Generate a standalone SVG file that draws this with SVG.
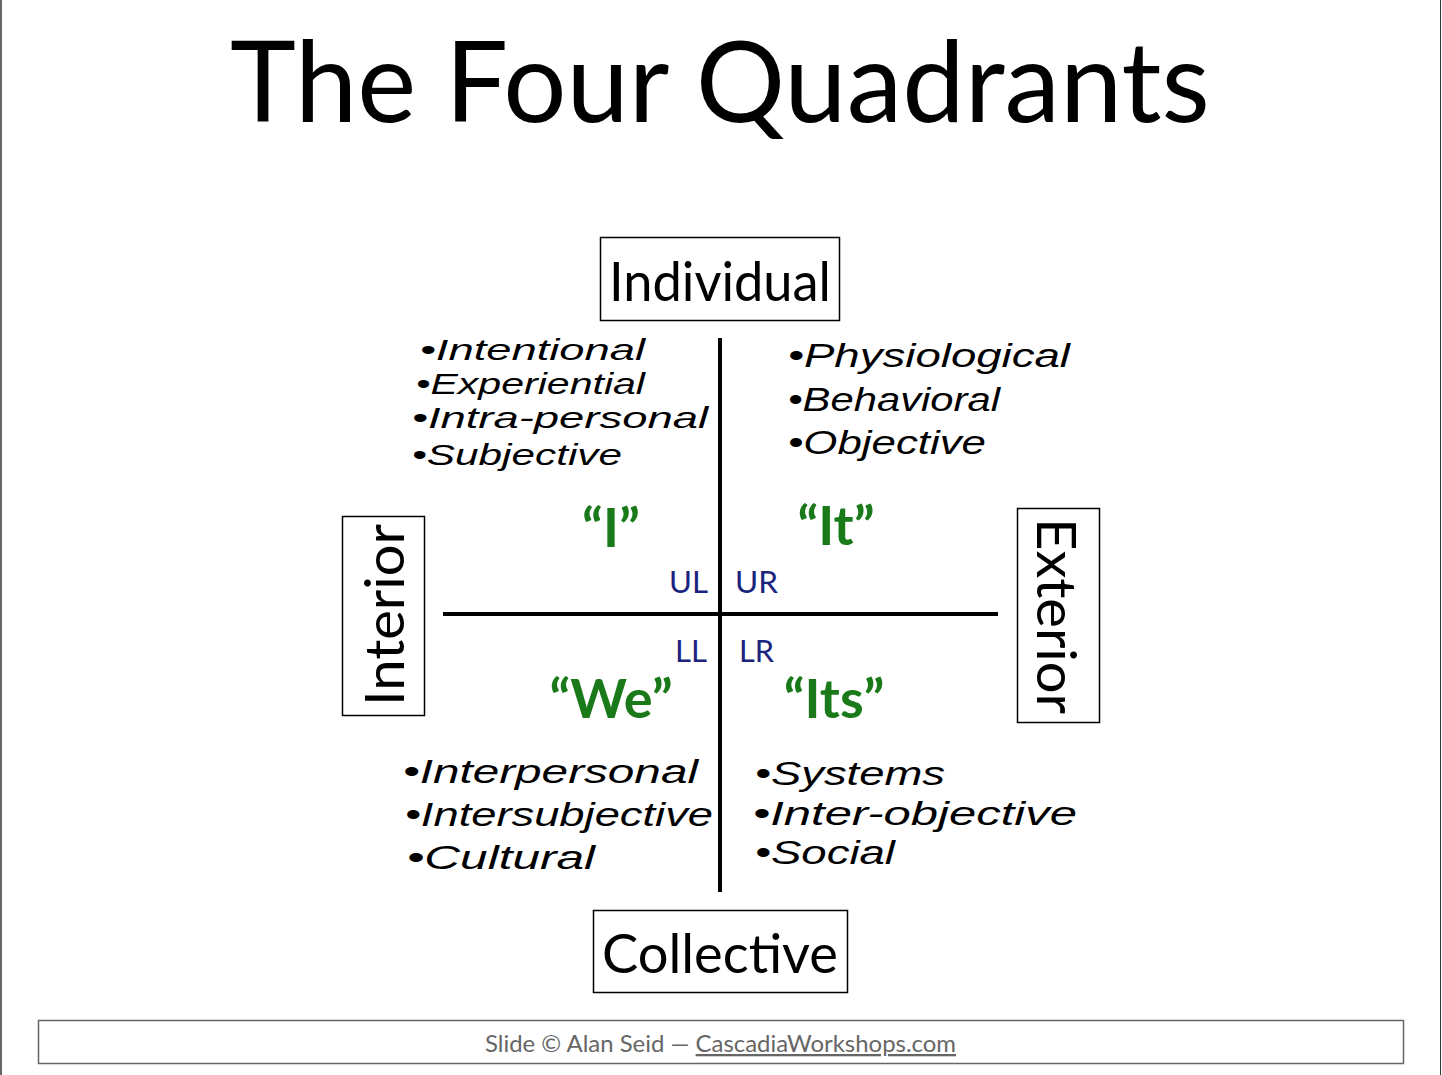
<svg xmlns="http://www.w3.org/2000/svg" width="1442" height="1075" viewBox="0 0 1442 1075">
<style>
.sans{font-family:"Lato","Open Sans","Liberation Sans",sans-serif;fill:#000}
.box{fill:#fff;stroke:#000;stroke-width:1.5}
.hand{font-family:"Liberation Sans","DejaVu Sans",sans-serif;font-style:italic;font-size:34px;fill:#000;font-weight:normal}
.tl{font-size:30px}
.q{font-family:"Lato","Open Sans","Liberation Sans",sans-serif;font-size:54px;fill:#1a7a1a;text-anchor:middle;font-weight:bold}
.code{font-family:"Lato","Open Sans","Liberation Sans",sans-serif;font-size:30px;fill:#1a237e}
</style>
<rect x="0" y="0" width="1442" height="1075" fill="#fff"/>
<line x1="1" y1="0" x2="1" y2="1075" stroke="#333" stroke-width="1.5"/>
<line x1="1440.5" y1="0" x2="1440.5" y2="1075" stroke="#333" stroke-width="1"/>
<text class="sans" x="720" y="122" font-size="112" text-anchor="middle" textLength="980" lengthAdjust="spacingAndGlyphs">The Four Quadrants</text>
<g id="connectors">
<line x1="720" y1="338" x2="720" y2="892" stroke="#000" stroke-width="4"/>
<line x1="443" y1="614" x2="998" y2="614" stroke="#000" stroke-width="4"/>
</g>
<g id="individual">
<rect class="box" x="600.5" y="237.5" width="239" height="83"/>
<text class="sans" x="720" y="301" font-size="54" text-anchor="middle" textLength="222" lengthAdjust="spacingAndGlyphs">Individual</text>
</g>
<g id="collective">
<rect class="box" x="593.5" y="910.5" width="254" height="82"/>
<text class="sans" x="720" y="973" font-size="54" text-anchor="middle" textLength="236" lengthAdjust="spacingAndGlyphs">Collective</text>
</g>
<g id="interior">
<rect class="box" x="342.5" y="516.5" width="82" height="199"/>
<text class="sans" transform="translate(404,615) rotate(-90)" x="0" y="0" font-size="54" text-anchor="middle" textLength="182" lengthAdjust="spacingAndGlyphs">Interior</text>
</g>
<g id="exterior">
<rect class="box" x="1017.5" y="508.5" width="82" height="214"/>
<text class="sans" transform="translate(1037,616) rotate(90)" x="0" y="0" font-size="54" text-anchor="middle" textLength="196" lengthAdjust="spacingAndGlyphs">Exterior</text>
</g>
<g id="ul">
<text class="q" x="611" y="547">“I”</text>
<text class="code" x="669" y="593" textLength="39" lengthAdjust="spacingAndGlyphs">UL</text>
<text class="hand tl" x="420" y="360" textLength="225" lengthAdjust="spacingAndGlyphs">•Intentional</text>
<text class="hand tl" x="416" y="394" textLength="229" lengthAdjust="spacingAndGlyphs">•Experiential</text>
<text class="hand tl" x="412" y="428" textLength="296" lengthAdjust="spacingAndGlyphs">•Intra-personal</text>
<text class="hand tl" x="412" y="465" textLength="210" lengthAdjust="spacingAndGlyphs">•Subjective</text>
</g>
<g id="ur">
<text class="q" x="836" y="545">“It”</text>
<text class="code" x="735" y="593" textLength="43" lengthAdjust="spacingAndGlyphs">UR</text>
<text class="hand" x="788" y="367" textLength="282" lengthAdjust="spacingAndGlyphs">•Physiological</text>
<text class="hand" x="788" y="411" textLength="212" lengthAdjust="spacingAndGlyphs">•Behavioral</text>
<text class="hand" x="788" y="454" textLength="198" lengthAdjust="spacingAndGlyphs">•Objective</text>
</g>
<g id="ll">
<text class="q" x="611" y="718">“We”</text>
<text class="code" x="675" y="662" textLength="32" lengthAdjust="spacingAndGlyphs">LL</text>
<text class="hand" x="403" y="783" textLength="295" lengthAdjust="spacingAndGlyphs">•Interpersonal</text>
<text class="hand" x="405" y="826" textLength="308" lengthAdjust="spacingAndGlyphs">•Intersubjective</text>
<text class="hand" x="407" y="869" textLength="188" lengthAdjust="spacingAndGlyphs">•Cultural</text>
</g>
<g id="lr">
<text class="q" x="834" y="718">“Its”</text>
<text class="code" x="739" y="662" textLength="35" lengthAdjust="spacingAndGlyphs">LR</text>
<text class="hand" x="755" y="785" textLength="190" lengthAdjust="spacingAndGlyphs">•Systems</text>
<text class="hand" x="753" y="825" textLength="324" lengthAdjust="spacingAndGlyphs">•Inter-objective</text>
<text class="hand" x="755" y="864" textLength="140" lengthAdjust="spacingAndGlyphs">•Social</text>
</g>
<g id="footer">
<rect x="38.5" y="1020.5" width="1365" height="43" fill="#fff" stroke="#666" stroke-width="1.5"/>
<text class="sans" x="485" y="1052" font-size="23" style="fill:#666" textLength="471" lengthAdjust="spacingAndGlyphs">Slide © Alan Seid — <tspan text-decoration="underline">CascadiaWorkshops.com</tspan></text>
</g>
</svg>
